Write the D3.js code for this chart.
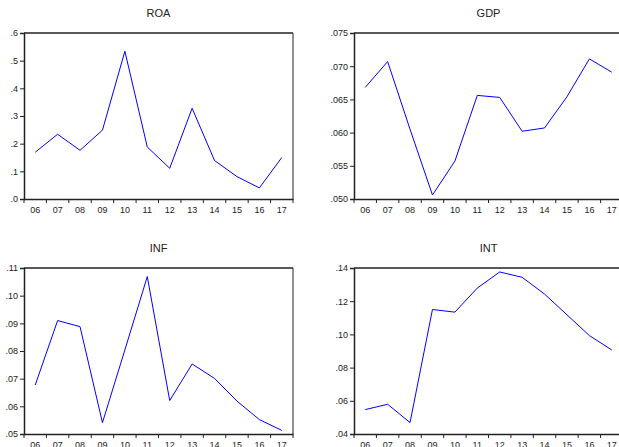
<!DOCTYPE html>
<html>
<head>
<meta charset="utf-8">
<script src="https://cdn.jsdelivr.net/npm/d3@7"></script>
<style>
    body { margin: 0; background: #fff; }
    svg { display: block; font-family: "Liberation Sans", Arial, sans-serif; }
    .tick-label { font-size: 9px; fill: #222; }
    .panel-title { font-size: 11px; fill: #222; }
</style>
</head>
<body>
<div id="chart"></div>
<script>
// years on the x axis (2006 - 2017)
const years = ["06", "07", "08", "09", "10", "11", "12", "13", "14", "15", "16", "17"];

// series
const roaValues = [0.169, 0.234, 0.176, 0.249, 0.534, 0.188, 0.111, 0.328, 0.139, 0.081, 0.040, 0.150];
const gdpValues = [0.0668, 0.0707, 0.0605, 0.0506, 0.0557, 0.0656, 0.0653, 0.0602, 0.0607, 0.0654, 0.0711, 0.0691];
const infValues = [0.0677, 0.0910, 0.0888, 0.0541, 0.0804, 0.1069, 0.0621, 0.0753, 0.0701, 0.0619, 0.0552, 0.0513];
const intValues = [0.0547, 0.0579, 0.0469, 0.1150, 0.1134, 0.1279, 0.1376, 0.1344, 0.1243, 0.1118, 0.0993, 0.0906];

// y ticks per panel
const roaTicks = [0, 0.1, 0.2, 0.3, 0.4, 0.5, 0.6];
const gdpTicks = [0.050, 0.055, 0.060, 0.065, 0.070, 0.075];
const infTicks = [0.05, 0.06, 0.07, 0.08, 0.09, 0.10, 0.11];
const intTicks = [0.04, 0.06, 0.08, 0.10, 0.12, 0.14];

const width = 619, height = 447;
const plotW = 269, plotH = 166;

const svg = d3.select("#chart")
    .append("svg")
    .attr("width", width)
    .attr("height", height);

// drops the leading zero like ".05"
function fmt(decimals) {
    const f = d3.format(`.${decimals}f`);
    return v => f(v).replace(/^0/, "");
}

function drawPanel(title, values, ticks, decimals, left, top) {
    const g = svg.append("g")
        .attr("transform", `translate(${left}, ${top})`);

    const x = d3.scaleBand()
        .domain(years)
        .range([0, plotW])
        .padding(0);

    const y = d3.scaleLinear()
        .domain([ticks[0], ticks[ticks.length - 1]])
        .range([plotH, 0]);

    // frame: thin right side, heavier top/left/bottom
    g.append("line")
        .attr("x1", plotW).attr("x2", plotW)
        .attr("y1", 0).attr("y2", plotH)
        .attr("stroke", "#222").attr("stroke-width", 1);
    g.append("line")
        .attr("x1", 0).attr("x2", plotW)
        .attr("y1", 0).attr("y2", 0)
        .attr("stroke", "#222").attr("stroke-width", 1.5);

    // y axis
    const yAxis = g.append("g")
        .call(d3.axisLeft(y).tickValues(ticks).tickSize(4).tickPadding(2).tickFormat(fmt(decimals)));
    yAxis.select(".domain").attr("stroke", "#222").attr("stroke-width", 1.5);
    yAxis.selectAll(".tick line").attr("stroke", "#222");
    yAxis.selectAll(".tick text").attr("class", "tick-label").attr("font-family", null).attr("font-size", null);

    // x axis: labels in the middle of each year, ticks on the boundaries
    const xAxis = g.append("g")
        .attr("transform", `translate(0, ${plotH})`)
        .call(d3.axisBottom(x).tickSize(0).tickPadding(8));
    xAxis.select(".domain").attr("stroke", "#222").attr("stroke-width", 1.5);
    xAxis.selectAll(".tick text").attr("class", "tick-label").attr("font-family", null).attr("font-size", null);

    const bounds = d3.range(years.length + 1).map(i => i * x.step());
    xAxis.selectAll(".bound")
        .data(bounds)
        .enter()
        .append("line")
        .attr("class", "bound")
        .attr("x1", d => d).attr("x2", d => d)
        .attr("y1", 0).attr("y2", 4)
        .attr("stroke", "#222");

    // series line
    const line = d3.line()
        .x((d, i) => x(years[i]) + x.bandwidth() / 2)
        .y(d => y(d));

    g.append("path")
        .datum(values)
        .attr("fill", "none")
        .attr("stroke", "#0000ff")
        .attr("stroke-width", 1)
        .attr("d", line);

    // title
    g.append("text")
        .attr("class", "panel-title")
        .attr("x", plotW / 2)
        .attr("y", -16)
        .attr("text-anchor", "middle")
        .text(title);
}

drawPanel("ROA", roaValues, roaTicks, 1, 24, 33);
drawPanel("GDP", gdpValues, gdpTicks, 3, 354, 33);
drawPanel("INF", infValues, infTicks, 2, 24, 268);
drawPanel("INT", intValues, intTicks, 2, 354, 268);
</script>
</body>
</html>
